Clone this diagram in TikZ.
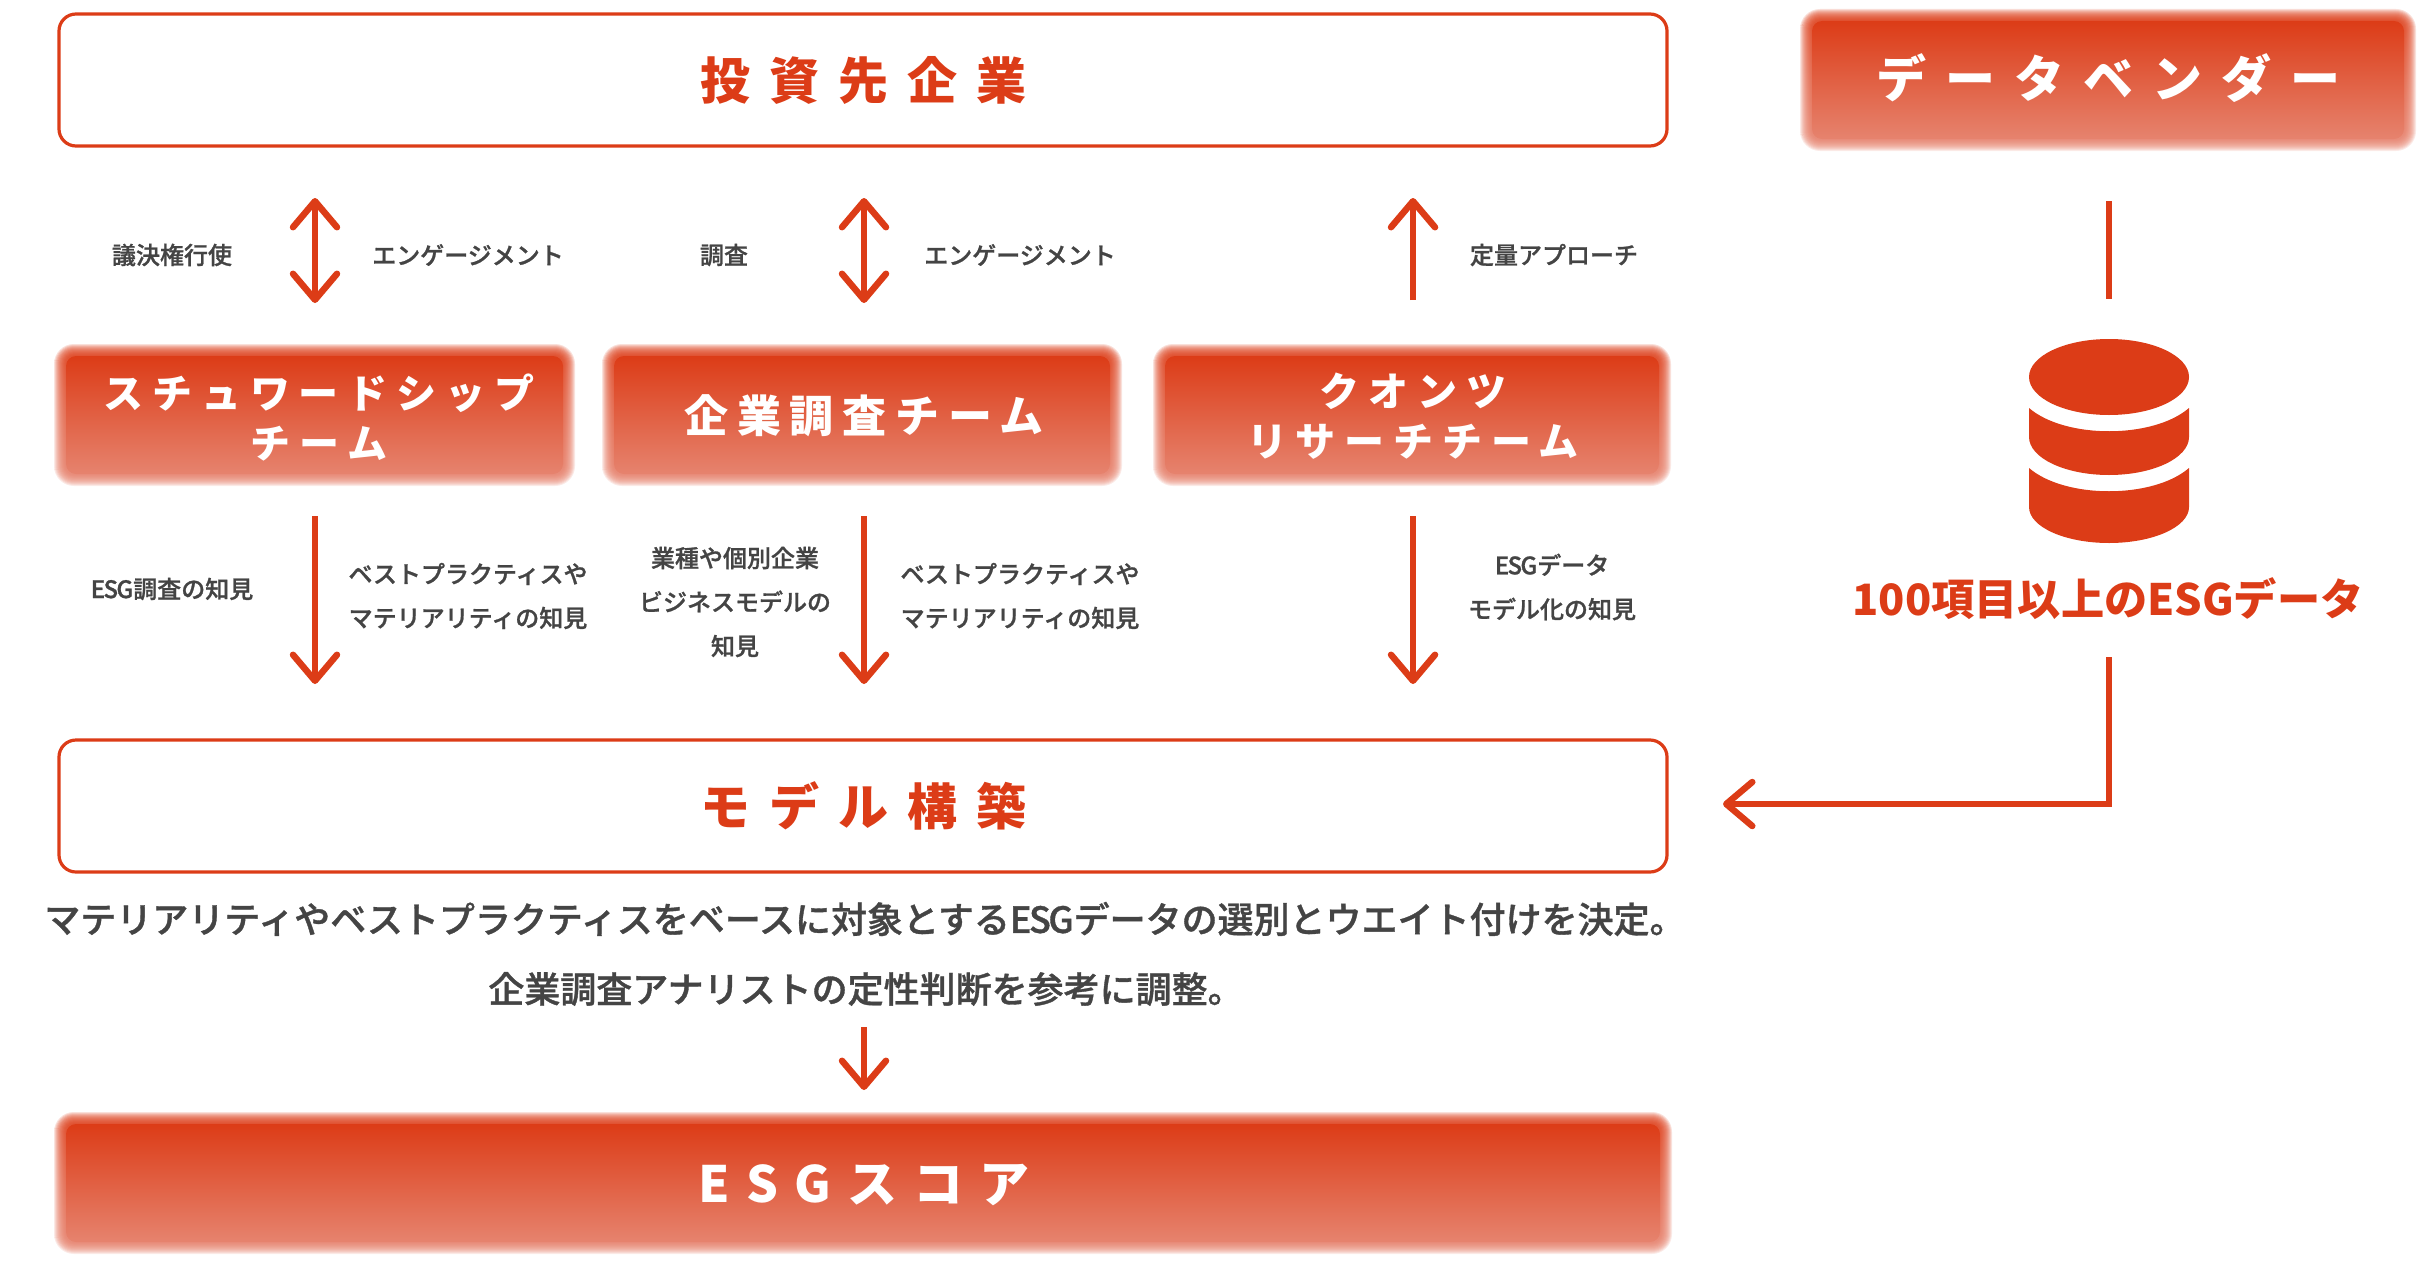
\documentclass[tikz,border=0pt]{standalone}
\usepackage{fontspec}
\usetikzlibrary{arrows.meta}
\setmainfont{Noto Sans CJK JP}
\newfontfamily\medfont[FakeBold=1]{Noto Sans CJK JP Medium}
\newfontfamily\spacedlg[LetterSpace=38]{Noto Sans CJK JP}
\newfontfamily\spacedes[LetterSpace=32]{Noto Sans CJK JP}
\newfontfamily\spacedsm[LetterSpace=22]{Noto Sans CJK JP}
\newfontfamily\spacedmd[LetterSpace=20]{Noto Sans CJK JP}
\newcommand{\tightesg}{{\addfontfeature{LetterSpace=-7}ESG}}
\definecolor{accent}{HTML}{DC3C17}
\definecolor{softend}{HTML}{E6836E}
\definecolor{labelgray}{HTML}{444444}
\tikzset{
  outlinebox/.style={draw=accent,line width=1.6pt,fill=white,rounded corners=8.5pt},
  softfill/.style={top color=accent,bottom color=softend},
  titlelg/.style={font=\fontsize{25}{25}\selectfont\spacedlg\bfseries,inner sep=0pt},
  titlees/.style={font=\fontsize{25}{25}\selectfont\spacedes\bfseries,inner sep=0pt},
  titlesm/.style={font=\fontsize{20}{25}\selectfont\spacedsm\bfseries,text=white,align=center,inner sep=0pt,xshift=2pt},
  titlemd/.style={font=\fontsize{22}{25}\selectfont\spacedmd\bfseries,text=white,align=center,inner sep=0pt,xshift=2pt},
  smalllabel/.style={font=\fontsize{12}{22}\selectfont\medfont,text=labelgray,align=center,inner sep=0pt},
  biglabel/.style={font=\fontsize{18}{18}\selectfont\medfont,text=labelgray,inner sep=0pt},
  conn/.style={draw=accent,line width=3.25pt},
  headed/.style={conn,-{Straight Barb[length=13pt,width=22pt,round]}},
  twohead/.style={conn,{Straight Barb[length=13pt,width=22pt,round]}-{Straight Barb[length=13pt,width=22pt,round]}},
}
\newcommand{\softbox}[4]{%
  \foreach \d in {5,4,3,2,1,0,-1,-2,-3,-4,-5,-6}{%
    \pgfmathsetmacro{\rad}{0.5*(15+\d)}
    \shade[softfill,opacity=.16,rounded corners=\rad pt] ({#1-\d},{#2-\d}) rectangle ({#3+\d},{#4+\d});
  }
  \shade[softfill,rounded corners=5pt] ({#1+7},{#2+7}) rectangle ({#3-7},{#4-7});
}
\begin{document}
\begin{tikzpicture}[x=0.5pt,y=-0.5pt]
\useasboundingbox (0,0) rectangle (2424,1263);

% outlined boxes
\draw[outlinebox] (59,14) rectangle (1667,146);
\node[titlelg,text=accent] (invest) at (863,80) {投資先企業};
\draw[outlinebox] (59,740) rectangle (1667,872);
\node[titlelg,text=accent] (model) at (863,806) {モデル構築};

% soft boxes
\softbox{1805}{14}{2411}{146}
\node[titlelg,text=white] (vendor) at (2108,78) {データベンダー};
\softbox{59}{349}{570}{481}
\node[titlesm] (stew) at (315,418) {スチュワードシップ\\チーム};
\softbox{607}{349}{1117}{481}
\node[titlemd] (research) at (860,416) {企業調査チーム};
\softbox{1158}{349}{1666}{481}
\node[titlesm] (quant) at (1409,416) {クオンツ\\リサーチチーム};
\softbox{59}{1117}{1667}{1249}
\node[titlees,text=white] (esg) at (864,1185) {ESGスコア};

% connector ends
\coordinate (a1t) at (315,198);
\coordinate (a1b) at (315,303);
\coordinate (a2t) at (864,198);
\coordinate (a2b) at (864,303);
\coordinate (a3t) at (1413,198);
\coordinate (a3b) at (1413,300);
\coordinate (d1t) at (315,516);
\coordinate (d1b) at (315,684);
\coordinate (d2t) at (864,516);
\coordinate (d2b) at (864,684);
\coordinate (d3t) at (1413,516);
\coordinate (d3b) at (1413,684);
\coordinate (s1t) at (864,1027);
\coordinate (s1b) at (864,1090);
\coordinate (v1t) at (2109,201);
\coordinate (v1b) at (2109,299);
\coordinate (v2t) at (2109,657);
\coordinate (v2e) at (1723,804);

\draw[twohead] (a1t) -- (a1b);
\draw[twohead] (a2t) -- (a2b);
\draw[headed] (a3b) -- (a3t);
\draw[headed] (d1t) -- (d1b);
\draw[headed] (d2t) -- (d2b);
\draw[headed] (d3t) -- (d3b);
\draw[headed] (s1t) -- (s1b);
\draw[conn] (v1t) -- (v1b);
\draw[headed] (v2t) |- (v2e);

% labels
\node[smalllabel] (l1) at (172,255) {議決権行使};
\node[smalllabel] (l2) at (468,255) {エンゲージメント};
\node[smalllabel] (l3) at (724,255) {調査};
\node[smalllabel] (l4) at (1020,255) {エンゲージメント};
\node[smalllabel] (l5) at (1554,255) {定量アプローチ};
\node[smalllabel] (l6) at (172,589) {\tightesg 調査の知見};
\node[smalllabel] (l7) at (468,596) {ベストプラクティスや\\マテリアリティの知見};
\node[smalllabel] (l8) at (735,602) {業種や個別企業\\ビジネスモデルの\\知見};
\node[smalllabel] (l9) at (1020,596) {ベストプラクティスや\\マテリアリティの知見};
\node[smalllabel] (l10) at (1552,587) {\tightesg データ\\モデル化の知見};

\node[biglabel] (desc1) at (865,919) {マテリアリティやベストプラクティスをベースに対象とする\tightesg データの選別とウエイト付けを決定。};
\node[biglabel] (desc2) at (866,989) {企業調査アナリストの定性判断を参考に調整。};

% database icon
\fill[accent] (2109,377) ellipse [x radius=80,y radius=38];
\fill[accent] (2029,408) .. controls (2065,439) and (2153,439) .. (2189,408) -- (2189,437)
  .. controls (2189,458) and (2153,475) .. (2109,475) .. controls (2065,475) and (2029,458) .. (2029,437) -- cycle;
\fill[accent] (2029,468) .. controls (2065,499) and (2153,499) .. (2189,468) -- (2189,507)
  .. controls (2189,527) and (2153,543) .. (2109,543) .. controls (2065,543) and (2029,527) .. (2029,507) -- cycle;
\node[font=\fontsize{21.6}{22}\selectfont\bfseries,text=accent,inner sep=0pt] (dbtext) at (2108,599) {100項目以上のESGデータ};
\end{tikzpicture}
\end{document}
